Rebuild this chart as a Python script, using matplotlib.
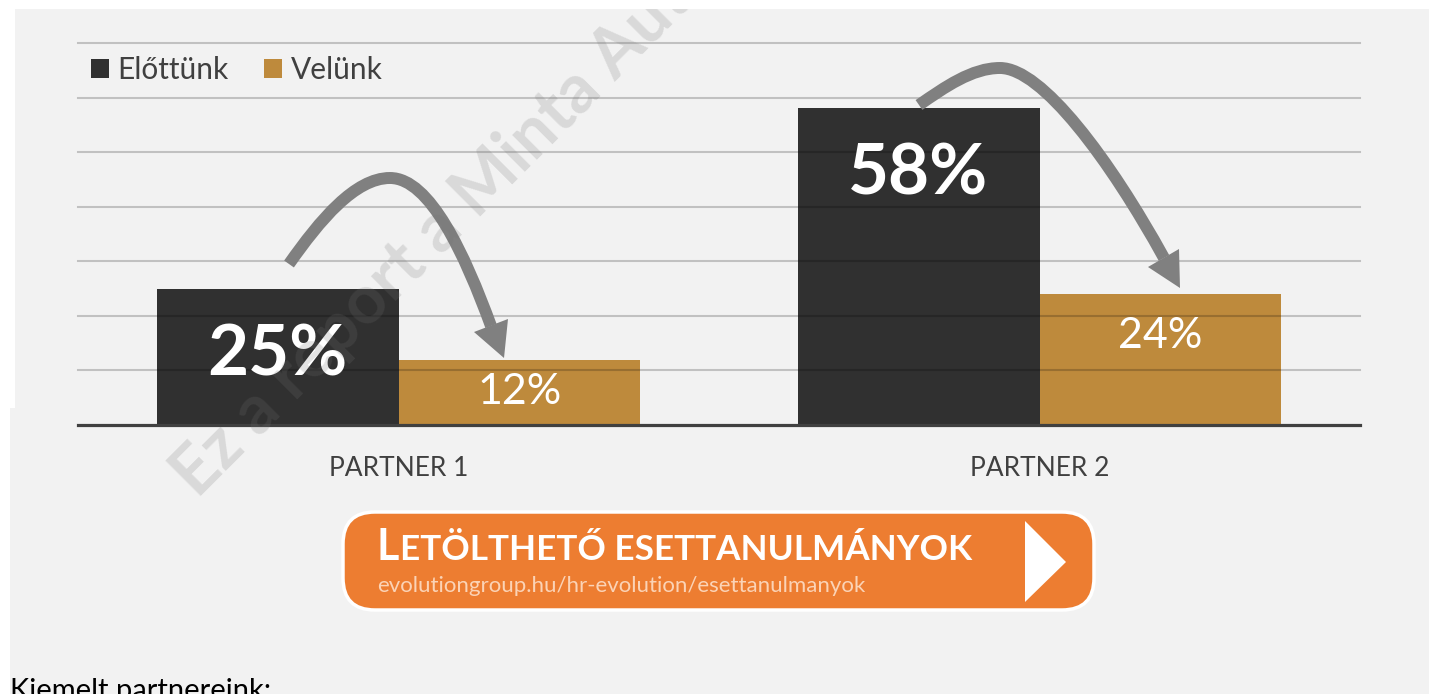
import matplotlib
matplotlib.use("Agg")
import matplotlib.pyplot as plt
from matplotlib.path import Path
from matplotlib.patches import PathPatch, Polygon, Rectangle, FancyBboxPatch
import numpy as np

plt.rcParams['font.family'] = ['Lato', 'DejaVu Sans']

# ---- data ----
categories = ["PARTNER 1", "PARTNER 2"]
series_names = ["Előttünk", "Velünk"]
before_vals = [25, 58]
after_vals = [12, 24]
gridlines = [10, 20, 30, 40, 50, 60, 70]

# ---- styles ----
BG = "#f2f2f2"
DARK = "#303030"
GOLD = "#be8a3c"
TXT = "#404040"
ARROW = "#808080"
ORANGE = "#ed7d31"

W, H = 1429, 694
fig = plt.figure(figsize=(W / 100, H / 100), dpi=100)
fig.patch.set_facecolor("white")

# background overlay (pixel coordinates, y down)
bg = fig.add_axes([0, 0, 1, 1], zorder=0)
bg.set_xlim(0, W); bg.set_ylim(H, 0); bg.axis("off")
bg.add_patch(Rectangle((0, 0), W, H, color=BG, lw=0))

# main chart axes
ax_l, ax_r, ax_b, ax_t = 78, 1360, 425, 43
ax = fig.add_axes([ax_l / W, (H - ax_b) / H, (ax_r - ax_l) / W, (ax_b - ax_t) / H], zorder=5)
ax.set_facecolor("none")
x = np.arange(len(categories))
bw = 0.3775
b1 = ax.bar(x - bw / 2, before_vals, bw, color=DARK, label=series_names[0], zorder=2)
b2 = ax.bar(x + bw / 2, after_vals, bw, color=GOLD, label=series_names[1], zorder=2)
ax.set_xlim(-0.5, len(categories) - 0.5)
ax.set_ylim(0, 70)
for g in gridlines:
    ax.axhline(g, color="black", alpha=0.2, lw=1.5, zorder=3, clip_on=False)
ax.axhline(0, color=TXT, lw=2.3, zorder=4, clip_on=False)
for s in ax.spines.values():
    s.set_visible(False)
ax.set_yticks([])
ax.set_xticks(x)
ax.set_xticklabels(categories, fontsize=19, color=TXT)
ax.tick_params(axis="x", length=0, pad=22)

# value labels
for xi, v in zip(x, before_vals):
    ax.annotate(f"{v}%", (xi - bw / 2, v), xytext=(0, -66), textcoords="offset pixels",
                ha="center", va="center", fontsize=51, fontweight="bold", color="white", zorder=6)
for xi, v in zip(x, after_vals):
    yy = max(v / 2, v - 7.7)
    ax.text(xi + bw / 2, yy, f"{v}%", ha="center", va="center", fontsize=31,
            color="white", zorder=6)

# legend
leg = ax.legend(handles=[b1, b2], ncol=2, frameon=False, fontsize=21.5,
                loc="center left", bbox_to_anchor=(91 / W, 1 - 70 / H),
                bbox_transform=fig.transFigure, borderpad=0, handlelength=0.6,
                handleheight=0.6, handletextpad=0.28, columnspacing=1.2,
                borderaxespad=0)
for t in leg.get_texts():
    t.set_color(TXT)

# foreground overlay
fg = fig.add_axes([0, 0, 1, 1], zorder=10)
fg.set_xlim(0, W); fg.set_ylim(H, 0); fg.axis("off")
fg.patch.set_alpha(0)

# curved arrows (decoration, pixel space)
arrows = [
    dict(path=[(289, 264), (320, 220), (355, 178), (390, 178), (430, 178), (465, 255), (491, 326)],
         head=[(504, 358), (474, 332), (508, 319)]),
    dict(path=[(919, 105), (945, 87), (972, 68), (1000, 68), (1042, 68), (1110, 160), (1164, 258)],
         head=[(1180, 288), (1148, 267), (1179, 249)]),
]
for a in arrows:
    codes = [Path.MOVETO] + [Path.CURVE4] * 6
    fg.add_patch(PathPatch(Path(a["path"], codes), fill=False, edgecolor=ARROW,
                           lw=8.6, capstyle="butt", zorder=2))
    fg.add_patch(Polygon(a["head"], closed=True, color=ARROW, lw=0, zorder=2))

# watermark
fg.text(198, 500, "Ez a report a Minta Autó számára készült", rotation=45,
        rotation_mode="anchor", ha="left", va="baseline", fontsize=49,
        fontweight="bold", color="#747474", alpha=0.2, zorder=3)

# white page strips
fg.add_patch(Rectangle((0, 0), W, 9, color="white", lw=0, zorder=4))
fg.add_patch(Rectangle((0, 0), 15, 408, color="white", lw=0, zorder=4))
fg.add_patch(Rectangle((0, 408), 10, H - 408, color="white", lw=0, zorder=4))

# download button
fg.add_patch(FancyBboxPatch((343, 512), 751, 98, boxstyle="round,pad=0,rounding_size=32",
                            facecolor=ORANGE, edgecolor="white", lw=2.5, zorder=5))
fg.add_patch(Polygon([(1025, 521), (1066, 562), (1025, 602)], closed=True,
                     color="white", lw=0, zorder=6))
fg.text(377, 560, "L", fontsize=31, fontweight="bold", color="white",
        ha="left", va="baseline", zorder=6)
fg.text(400, 560, "ETÖLTHETŐ ESETTANULMÁNYOK", fontsize=25.3, fontweight="bold",
        color="white", ha="left", va="baseline", zorder=6)
fg.text(377, 586, "evolutiongroup.hu/hr-evolution/esettanulmanyok", fontsize=16,
        color="#fbd3b6", ha="left", va="center", zorder=6)

# page text below
fg.text(10, 699, "Kiemelt partnereink:", fontsize=21, color="black",
        ha="left", va="baseline", zorder=6)

fig.savefig("out.png", dpi=100, facecolor=fig.get_facecolor())
